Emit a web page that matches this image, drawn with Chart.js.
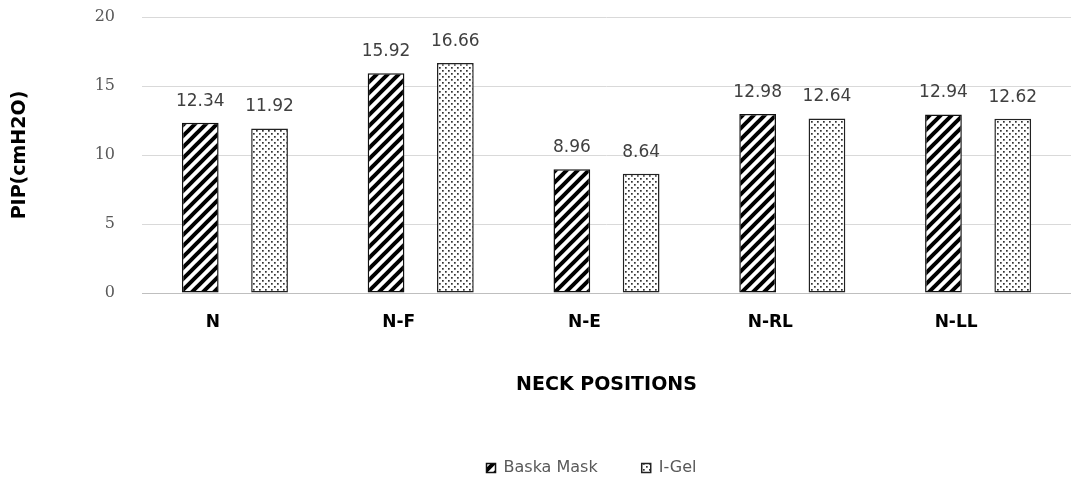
<!DOCTYPE html>
<html>
<head>
<meta charset="utf-8">
<script src="https://cdn.jsdelivr.net/npm/chart.js@4"></script>
<style>
  html, body { margin: 0; padding: 0; background: #fff; }
  #chartBox { width: 1071px; height: 481px; }
</style>
</head>
<body>
<div id="chartBox"><canvas class="js-chart"></canvas></div>
<script>
//#region ***  Data                                     ***********
const positions = ["N", "N-F", "N-E", "N-RL", "N-LL"];
const baskaValues = [12.34, 15.92, 8.96, 12.98, 12.94];
const igelValues = [11.92, 16.66, 8.64, 12.64, 12.62];
const seriesNames = ["Baska Mask", "I-Gel"];
const yTicks = [0, 5, 10, 15, 20];
//#endregion

//#region ***  Patterns - make___                       ***********
const makeStripes = function () {
  const size = 11;
  const tile = document.createElement("canvas");
  tile.width = size;
  tile.height = size;
  const ctx = tile.getContext("2d");
  ctx.fillStyle = "#fff";
  ctx.fillRect(0, 0, size, size);
  ctx.strokeStyle = "#000";
  ctx.lineWidth = 4;
  ctx.beginPath();
  ctx.moveTo(-2, size + 2);
  ctx.lineTo(size + 2, -2);
  ctx.moveTo(-2, 2);
  ctx.lineTo(2, -2);
  ctx.moveTo(size - 2, size + 2);
  ctx.lineTo(size + 2, size - 2);
  ctx.stroke();
  return ctx.createPattern(tile, "repeat");
};

const makeDots = function () {
  const size = 6;
  const tile = document.createElement("canvas");
  tile.width = size;
  tile.height = size;
  const ctx = tile.getContext("2d");
  ctx.fillStyle = "#fff";
  ctx.fillRect(0, 0, size, size);
  ctx.fillStyle = "#333";
  ctx.fillRect(1, 1, 1.7, 1.7);
  ctx.fillRect(4, 4, 1.7, 1.7);
  return ctx.createPattern(tile, "repeat");
};
//#endregion

//#region ***  Plugins                                  ***********
// value above every bar
const valueLabels = {
  id: "valueLabels",
  afterDatasetsDraw(chart) {
    const ctx = chart.ctx;
    ctx.save();
    ctx.font = "17px 'DejaVu Sans'";
    ctx.fillStyle = "#404040";
    ctx.textAlign = "center";
    ctx.textBaseline = "bottom";
    chart.data.datasets.forEach(function (ds, i) {
      chart.getDatasetMeta(i).data.forEach(function (bar, j) {
        ctx.fillText(ds.data[j].toFixed(2), bar.x, bar.y - 13);
      });
    });
    ctx.restore();
  },
};

// legend sits a bit right of the middle in the original
const legendShift = {
  id: "legendShift",
  afterLayout(chart) {
    chart.legend.left += 51;
    chart.legend.right += 51;
  },
};
//#endregion

//#region ***  Init                                     ***********
const init = function () {
  const htmlCanvas = document.querySelector(".js-chart");

  const data = {
    labels: positions,
    datasets: [
      {
        label: seriesNames[0],
        data: baskaValues,
        backgroundColor: makeStripes(),
        borderColor: "#111",
        borderWidth: 1.5,
        borderSkipped: false,
      },
      {
        label: seriesNames[1],
        data: igelValues,
        backgroundColor: makeDots(),
        borderColor: "#222",
        borderWidth: 1.5,
        borderSkipped: false,
      },
    ],
  };

  const config = {
    type: "bar",
    data: data,
    plugins: [valueLabels, legendShift],
    options: {
      responsive: true,
      maintainAspectRatio: false,
      animation: false,
      categoryPercentage: 0.746,
      barPercentage: 0.53,
      layout: { padding: { top: 17, left: 0, right: -10, bottom: -5 } },
      plugins: {
        tooltip: { enabled: false },
        legend: {
          position: "bottom",
          labels: {
            boxWidth: 9,
            boxHeight: 9,
            padding: 44,
            color: "#595959",
            font: { family: "'DejaVu Sans'", size: 16 },
          },
        },
      },
      scales: {
        x: {
          grid: { display: false, drawTicks: false },
          border: { color: "#bfbfbf" },
          ticks: {
            padding: 19,
            labelOffset: -22,
            color: "#000",
            font: { family: "'DejaVu Sans'", size: 17, weight: "bold" },
          },
          title: {
            display: true,
            text: "NECK POSITIONS",
            color: "#000",
            padding: 20,
            font: { family: "'DejaVu Sans'", size: 19, weight: "bold" },
          },
          afterFit: function (scale) {
            scale.height = 123;
          },
        },
        y: {
          min: 0,
          max: 20,
          afterBuildTicks: function (scale) {
            scale.ticks = yTicks.map((v) => ({ value: v }));
          },
          grid: { color: "#d9d9d9", drawTicks: false },
          border: { display: false },
          ticks: {
            padding: 27,
            color: "#595959",
            font: { family: "'DejaVu Serif'", size: 16 },
          },
          title: {
            display: true,
            text: "PIP(cmH2O)",
            color: "#000",
            padding: 9,
            font: { family: "'DejaVu Sans'", size: 19, weight: "bold" },
          },
          afterFit: function (scale) {
            scale.width = 142;
            scale.paddingTop = 0;
            scale.paddingBottom = 0;
          },
        },
      },
    },
  };

  new Chart(htmlCanvas, config);
};

document.addEventListener("DOMContentLoaded", init);
//#endregion
</script>
</body>
</html>
